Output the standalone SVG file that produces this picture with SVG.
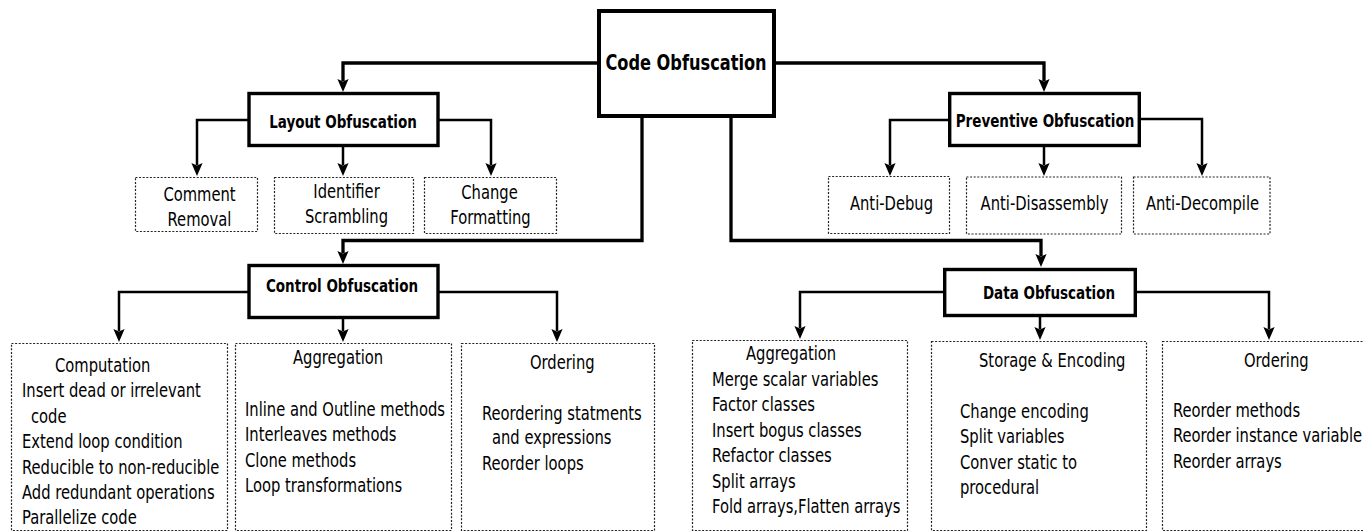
<svg xmlns="http://www.w3.org/2000/svg" width="1363" height="532" viewBox="0 0 1363 532">
  <style>
    .main { fill: #fff; stroke: #000; stroke-width: 3.4; }
    .root { fill: #fff; stroke: #000; stroke-width: 4; }
    .leaf { fill: #fff; stroke: #222; stroke-width: 1.2; stroke-dasharray: 2 1.6; }
    .trunk { fill: none; stroke: #000; stroke-width: 3.3; marker-end: url(#arrow); }
    .branch { fill: none; stroke: #000; stroke-width: 2.5; marker-end: url(#arrow); }
    text { font-family: "DejaVu Sans Condensed", "DejaVu Sans", sans-serif; font-stretch: condensed; fill: #000; }
    .t { font-size: 16.4px; }
    .h { font-size: 15px; font-weight: bold; text-anchor: middle; }
    .c { font-size: 18px; font-weight: bold; text-anchor: middle; }
    .m { text-anchor: middle; }
  </style>
  <defs>
    <marker id="arrow" markerUnits="userSpaceOnUse" markerWidth="16" markerHeight="14" viewBox="-3 -7 16 14" refX="0" refY="0" orient="auto">
      <path d="M11,0 L-2,-5.6 L0.5,0 L-2,5.6 Z" fill="#000"/>
    </marker>
  </defs>

  <g id="connectors">
    <path class="trunk" d="M599,63 H343 V81"/>
    <path class="trunk" d="M774,63 H1044 V81"/>
    <path class="trunk" d="M642,116 V240.5 H343 V253"/>
    <path class="trunk" d="M731,116 V240.5 H1041 V256"/>
    <path class="branch" d="M249,120 H197 V165"/>
    <path class="branch" d="M343,145 V165"/>
    <path class="branch" d="M438,120 H491 V165"/>
    <path class="branch" d="M950,120 H890 V165"/>
    <path class="branch" d="M1044,145 V165"/>
    <path class="branch" d="M1139,119 H1202 V165"/>
    <path class="branch" d="M249,292 H119 V331"/>
    <path class="branch" d="M343,317 V331"/>
    <path class="branch" d="M438,292 H557 V331"/>
    <path class="branch" d="M945,292 H800 V328"/>
    <path class="branch" d="M1040,315 V329"/>
    <path class="branch" d="M1135,292 H1269 V329"/>
  </g>

  <g id="code-obfuscation">
    <rect class="root" x="599" y="11" width="175" height="105"/>
    <g transform="scale(1,1.17)"><text class="c" x="686" y="59.83">Code Obfuscation</text></g>
  </g>

  <g id="layout-obfuscation">
    <rect class="main" x="249" y="93.5" width="189" height="52"/>
    <g transform="scale(1,1.17)"><text class="h" x="343" y="109.4">Layout Obfuscation</text></g>
  </g>
  <g id="comment-removal">
    <rect class="leaf" x="135.5" y="177.5" width="122" height="54"/>
    <g transform="scale(1,1.17)"><text class="t m"><tspan x="199.5" y="171.79">Comment</tspan><tspan x="199.5" y="193.16">Removal</tspan></text></g>
  </g>
  <g id="identifier-scrambling">
    <rect class="leaf" x="274.5" y="177.5" width="139" height="56"/>
    <g transform="scale(1,1.17)"><text class="t m"><tspan x="346.5" y="169.23">Identifier</tspan><tspan x="346.5" y="190.6">Scrambling</tspan></text></g>
  </g>
  <g id="change-formatting">
    <rect class="leaf" x="424.5" y="177.5" width="132" height="56"/>
    <g transform="scale(1,1.17)"><text class="t m"><tspan x="489.5" y="170.09">Change</tspan><tspan x="490.5" y="191.45">Formatting</tspan></text></g>
  </g>

  <g id="preventive-obfuscation">
    <rect class="main" x="949.7" y="93.5" width="189.6" height="52"/>
    <g transform="scale(1,1.17)"><text class="h" x="1045" y="108.55">Preventive Obfuscation</text></g>
  </g>
  <g id="anti-debug">
    <rect class="leaf" x="828.5" y="176.5" width="121" height="57"/>
    <g transform="scale(1,1.17)"><text class="t m" x="891.5" y="179.49">Anti-Debug</text></g>
  </g>
  <g id="anti-disassembly">
    <rect class="leaf" x="966.5" y="177" width="155" height="57"/>
    <g transform="scale(1,1.17)"><text class="t m" x="1044.5" y="179.49">Anti-Disassembly</text></g>
  </g>
  <g id="anti-decompile">
    <rect class="leaf" x="1133.5" y="177" width="136.5" height="57"/>
    <g transform="scale(1,1.17)"><text class="t m" x="1202.5" y="179.49">Anti-Decompile</text></g>
  </g>

  <g id="control-obfuscation">
    <rect class="main" x="249" y="265.5" width="189" height="52"/>
    <g transform="scale(1,1.17)"><text class="h" x="342" y="249.57">Control Obfuscation</text></g>
  </g>
  <g id="control-computation">
    <rect class="leaf" x="11.5" y="343.5" width="216" height="187"/>
    <g transform="scale(1,1.17)"><text class="t">
      <tspan x="55" y="317.95">Computation</tspan>
      <tspan x="22" y="339.74">Insert dead or irrelevant</tspan>
      <tspan x="31" y="361.28">code</tspan>
      <tspan x="22" y="382.91">Extend loop condition</tspan>
      <tspan x="22" y="405.13">Reducible to non-reducible</tspan>
      <tspan x="22" y="426.5">Add redundant operations</tspan>
      <tspan x="22" y="447.86">Parallelize code</tspan>
    </text></g>
  </g>
  <g id="control-aggregation">
    <rect class="leaf" x="235.5" y="343.5" width="216" height="187"/>
    <g transform="scale(1,1.17)"><text class="t">
      <tspan x="293" y="311.11">Aggregation</tspan>
      <tspan x="245" y="355.56">Inline and Outline methods</tspan>
      <tspan x="245" y="376.92">Interleaves methods</tspan>
      <tspan x="245" y="399.15">Clone methods</tspan>
      <tspan x="245" y="420.51">Loop transformations</tspan>
    </text></g>
  </g>
  <g id="control-ordering">
    <rect class="leaf" x="461.5" y="343.5" width="193" height="187"/>
    <g transform="scale(1,1.17)"><text class="t">
      <tspan x="530" y="315.38">Ordering</tspan>
      <tspan x="482" y="358.97">Reordering statments</tspan>
      <tspan x="492" y="379.49">and expressions</tspan>
      <tspan x="482" y="401.71">Reorder loops</tspan>
    </text></g>
  </g>

  <g id="data-obfuscation">
    <rect class="main" x="944.7" y="269.5" width="190.6" height="46"/>
    <g transform="scale(1,1.17)"><text class="h" x="1049" y="255.56">Data Obfuscation</text></g>
  </g>
  <g id="data-aggregation">
    <rect class="leaf" x="692.5" y="340.5" width="215" height="190"/>
    <g transform="scale(1,1.17)"><text class="t">
      <tspan x="746" y="307.69">Aggregation</tspan>
      <tspan x="712" y="329.91">Merge scalar variables</tspan>
      <tspan x="712" y="351.28">Factor classes</tspan>
      <tspan x="712" y="373.5">Insert bogus classes</tspan>
      <tspan x="712" y="394.87">Refactor classes</tspan>
      <tspan x="712" y="417.09">Split arrays</tspan>
      <tspan x="712" y="438.46">Fold arrays,Flatten arrays</tspan>
    </text></g>
  </g>
  <g id="data-storage-encoding">
    <rect class="leaf" x="931.5" y="341.5" width="215" height="189"/>
    <g transform="scale(1,1.17)"><text class="t">
      <tspan x="979" y="313.68">Storage &amp; Encoding</tspan>
      <tspan x="960" y="357.26">Change encoding</tspan>
      <tspan x="960" y="378.63">Split variables</tspan>
      <tspan x="960" y="400.85">Conver static to</tspan>
      <tspan x="960" y="422.22">procedural</tspan>
    </text></g>
  </g>
  <g id="data-ordering">
    <rect class="leaf" x="1162.5" y="341.5" width="220" height="189"/>
    <g transform="scale(1,1.17)"><text class="t">
      <tspan x="1244" y="313.68">Ordering</tspan>
      <tspan x="1173" y="356.41">Reorder methods</tspan>
      <tspan x="1173" y="377.78">Reorder instance variable</tspan>
      <tspan x="1173" y="400">Reorder arrays</tspan>
    </text></g>
  </g>
</svg>
